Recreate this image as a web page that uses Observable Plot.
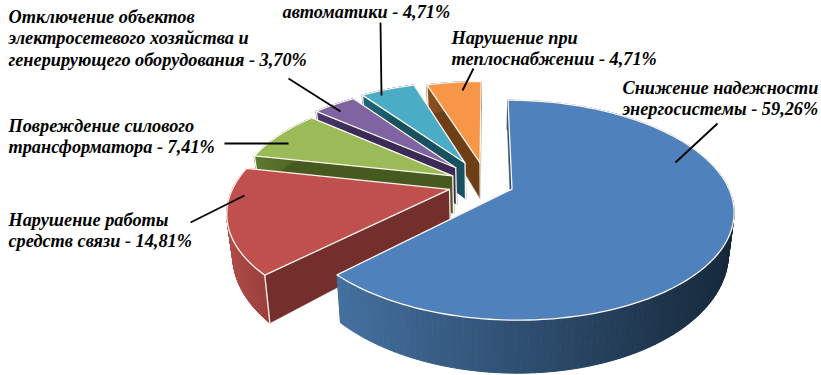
<!DOCTYPE html>
<html><head><meta charset="utf-8">
<style>html,body{margin:0;padding:0;background:#fff}svg{display:block}</style>
<script src="https://cdn.jsdelivr.net/npm/d3@7"></script>
<script src="https://cdn.jsdelivr.net/npm/@observablehq/plot@0.6"></script>
</head><body><div id="chart"></div>
<script>
// data
const values = [59.26, 14.81, 7.41, 3.70, 4.71, 4.71];
const labels = [
  "Снижение надежности\nэнергосистемы - 59,26%",
  "Нарушение работы\nсредств связи - 14,81%",
  "Повреждение силового\nтрансформатора - 7,41%",
  "Отключение объектов\nэлектросетевого хозяйства и\nгенерирующего оборудования - 3,70%",
  "автоматики - 4,71%",
  "Нарушение при\nтеплоснабжении - 4,71%"
];
// styling
const topColors = ["#4f81bd", "#c0504d", "#9bbb59", "#8064a2", "#4bacc6", "#f79646"];
const wallColors = ["#2f5179", "#742f2c", "#46591f", "#3b2a57", "#17505f", "#6e3f16"];
const rimFrom = ["#44709f", "#b04c49", "#5f7a30", "#4c3a6e", "#1f6678", "#8a5020"];
const rimTo = ["#16283b", "#9a3f3c", "#46591f", "#3b2a57", "#17505f", "#6e3f16"];
// layout of the exploded pie
const explode = [0.125, 0.18, 0.18, 0.22, 0.235, 0.215];
const cx = 486.5, cy = 183.5, Rx = 215, Ry = 104, k = 0.19, H = 38, shrink = 0.977;
// annotation layout
const labelX = [622, 8, 8, 8, 282, 451];
const labelY = [78, 210, 116, 7, 2, 28];
const leaderX1 = [717, 190, 224, 288, 380, 473];
const leaderY1 = [123, 222, 143, 78, 22, 68];
const leaderX2 = [675, 244, 288, 340, 381, 462];
const leaderY2 = [162, 195, 143, 111, 95, 90];

const proj = (u, v) => {
  const w = 1 + k * v;
  return {x: cx + Rx * u / w, y: cy - Ry * v / w, h: H / Math.pow(w, 1.5)};
};
const drop = p => ({x: cx + (p.x - cx) * shrink, y: p.y + p.h});
const arcs = d3.pie().sort(null).startAngle(0).endAngle(2 * Math.PI)(values);

const polys = [];
let id = 0;
const addPoly = (pts, fill, stroke, sw) => {
  id++;
  pts.forEach(p => polys.push({id, x: p.x, y: p.y, fill, stroke, sw}));
};
const order = [5, 4, 3, 2, 1, 0];
const nSeg = 160;
for (const i of order) {
  const a = arcs[i], mid = (a.startAngle + a.endAngle) / 2;
  const ax = explode[i] * Math.sin(mid), ay = explode[i] * Math.cos(mid);
  const apex = proj(ax, ay);
  const rimPts = d3.range(0, nSeg + 1).map(j => {
    const t = a.startAngle + (a.endAngle - a.startAngle) * j / nSeg;
    return proj(ax + Math.sin(t), ay + Math.cos(t));
  });
  const first = rimPts[0], last = rimPts[nSeg];
  // radial walls first, the rim hides what would stick out behind it
  addPoly([apex, last, drop(last), drop(apex)], wallColors[i], wallColors[i], 0.5);
  addPoly([apex, first, drop(first), drop(apex)], wallColors[i], wallColors[i], 0.5);
  // rim strips
  const xs = d3.extent(rimPts, p => p.x);
  const col = d3.interpolateRgb(rimFrom[i], rimTo[i]);
  for (let j = 0; j < nSeg; j++) {
    const p = rimPts[j], q = rimPts[j + 1];
    const c = col(((p.x + q.x) / 2 - xs[0]) / (xs[1] - xs[0]));
    addPoly([p, q, drop(q), drop(p)], c, c, 1);
  }
  // top face
  addPoly([apex, ...rimPts], topColors[i], "#fdf8f0", 1.3);
  // light corner edges
  if (i !== 0) {
    addPoly([apex, drop(apex)], "none", "#fdf8f0", 1.3);
    addPoly([first, drop(first)], "none", "#fdf8f0", 1.3);
  }
}
const labelRows = labels.map((text, i) => ({text, x: labelX[i], y: labelY[i]}));
const leaderRows = labels.map((_, i) => ({x1: leaderX1[i], y1: leaderY1[i], x2: leaderX2[i], y2: leaderY2[i]}));

const chart = Plot.plot({
  width: 821, height: 375, margin: 0,
  style: {background: "#fff"},
  x: {domain: [0, 821], range: [0, 821], axis: null},
  y: {domain: [0, 375], range: [0, 375], axis: null},
  color: {type: "identity"},
  marks: [
    Plot.line(polys, {x: "x", y: "y", z: "id", fill: "fill", stroke: "stroke", strokeWidth: "sw", curve: "linear-closed", strokeLinejoin: "round"}),
    Plot.link(leaderRows, {x1: "x1", y1: "y1", x2: "x2", y2: "y2", stroke: "#000", strokeWidth: 1.8}),
    Plot.text(labelRows, {x: "x", y: "y", text: "text", textAnchor: "start", lineAnchor: "top", lineHeight: 1.18,
      fontFamily: "Liberation Serif", fontStyle: "italic", fontWeight: "bold", fontSize: 18.3, fill: "#000"})
  ]
});
document.getElementById("chart").append(chart);
</script></body></html>
